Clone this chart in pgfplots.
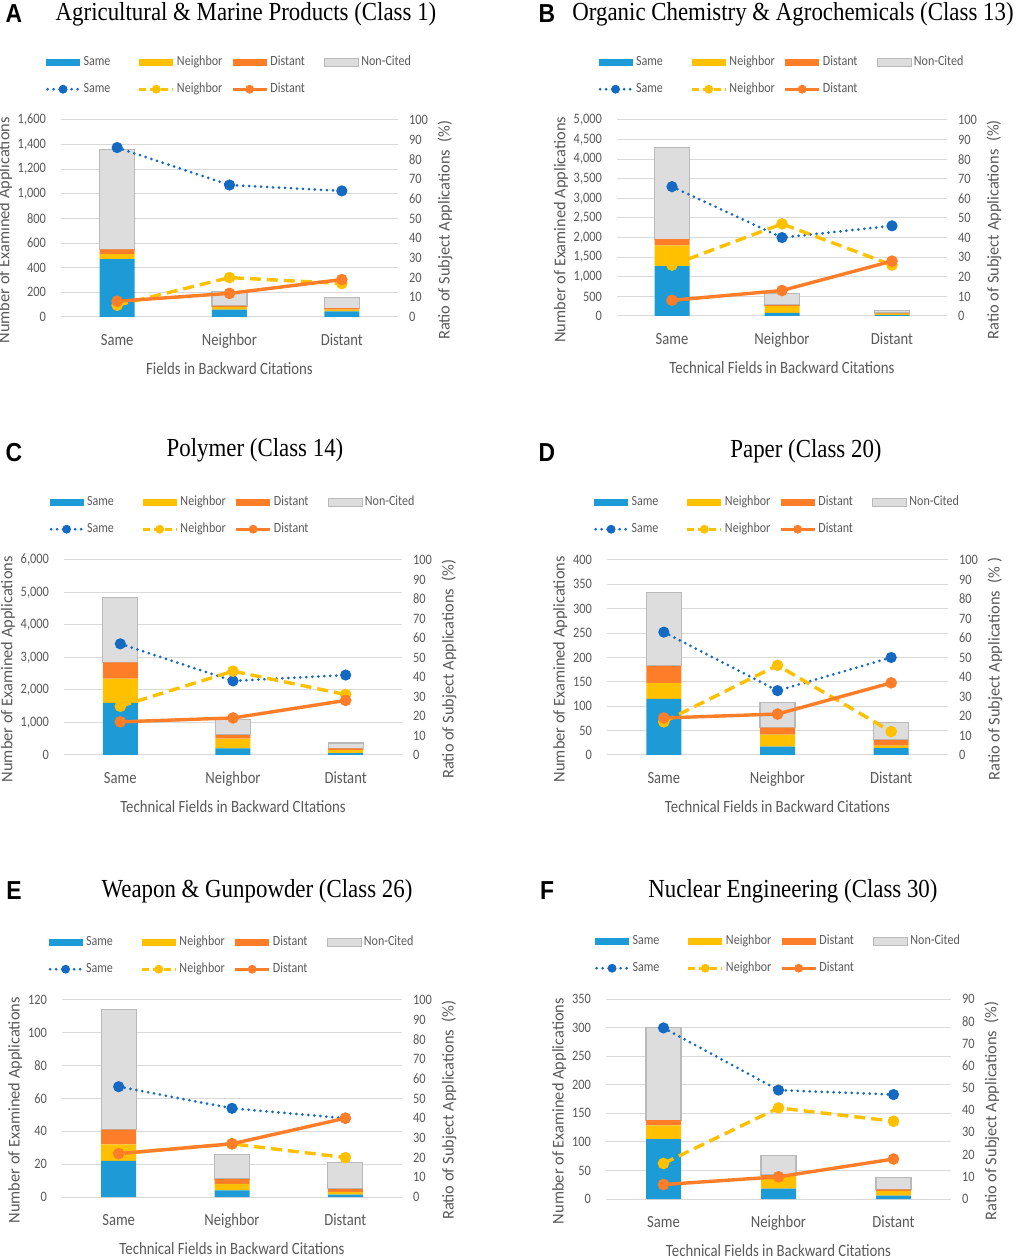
\documentclass[border=0pt]{standalone}
\usepackage{fontspec}
\usepackage{pgfplots}
\pgfplotsset{compat=1.18}
\setmainfont{Carlito}[FakeStretch=0.86]
\newfontfamily\ylabfam{Carlito}
\newfontfamily\titlefont{Liberation Serif}[FakeStretch=0.88]
\newfontfamily\letterfont{Liberation Sans}[FakeStretch=0.88]
\definecolor{barblue}{RGB}{29,155,214}
\definecolor{baryel}{RGB}{255,192,0}
\definecolor{barora}{RGB}{253,125,40}
\definecolor{bargray}{RGB}{221,221,221}
\definecolor{grayedge}{RGB}{185,185,185}
\definecolor{lblue}{RGB}{20,105,195}
\definecolor{lyel}{RGB}{255,192,0}
\definecolor{lora}{RGB}{253,125,40}
\definecolor{gridc}{RGB}{217,217,217}
\definecolor{txt}{RGB}{89,89,89}
\newcommand\tickfont{\fontsize{7.2}{8}\selectfont}
\newcommand\catfont{\fontsize{8.5}{10}\selectfont}
\newcommand\labfont{\fontsize{8.6}{10}\selectfont}
\newcommand\ylabfont{\ylabfam\fontsize{8.2}{9.5}\selectfont}
\newcommand\legfont{\fontsize{7}{8}\selectfont}
\tikzset{
 ttl/.style={font=\titlefont\fontsize{13}{15}\selectfont},
 ltr/.style={font=\letterfont\bfseries\fontsize{13}{15}\selectfont},
 sameline/.style={lblue, line width=1.5pt, line cap=round, dash pattern=on 0pt off 3pt},
 neiline/.style={lyel, line width=1.7pt, dash pattern=on 5.5pt off 3pt},
 disline/.style={lora, line width=1.7pt},
}
\pgfplotsset{
 barax/.style={scale only axis, ybar stacked, bar width=17.5pt,
  xmin=-0.5, xmax=2.5, xtick={0,1,2}, xticklabels={Same,Neighbor,Distant},
  ymin=0, ymajorgrids, major grid style={draw=gridc, line width=0.5pt},
  axis line style={draw=none}, major tick length=0pt,
  /pgf/number format/assume math mode=true,
  /pgf/number format/1000 sep={,}, scaled y ticks=false,
  yticklabel style={font=\tickfont, text=txt, xshift=-4pt},
  xticklabel style={font=\catfont, text=txt, yshift=-5pt},
  ylabel style={font=\ylabfont, text=txt, at={(ticklabel cs:0.44,-4pt)}},
  xlabel style={font=\labfont, text=txt},
  ylabel={Number of Examined Applications},
  legend columns=4,
  legend style={draw=none, fill=none, at={(0.5,1)}, anchor=south, yshift=11pt,
    column sep=0pt, row sep=5pt, inner sep=0pt, nodes={font=\legfont, text=txt, inner sep=1pt}},
 },
 lineax/.style={scale only axis, xmin=-0.5, xmax=2.5, axis x line=none, axis y line*=right,
  ymin=0, ymax=100, ytick distance=10, axis line style={draw=none}, major tick length=0pt,
  /pgf/number format/assume math mode=true, clip=false,
  yticklabel style={font=\tickfont, text=txt, xshift=2pt},
  ylabel style={font=\ylabfont, text=txt, at={(ticklabel cs:0.44,-2pt)}},
  ylabel={Ratio of Subject Applications\ \ (\%)},
 },
 bS/.style={fill=barblue, draw=none, legend image code/.code={\fill[barblue] (0pt,-1.8pt) rectangle (17pt,1.8pt);}},
 bN/.style={fill=baryel, draw=none, legend image code/.code={\fill[baryel] (0pt,-1.8pt) rectangle (17pt,1.8pt);}},
 bD/.style={fill=barora, draw=none, legend image code/.code={\fill[barora] (0pt,-1.8pt) rectangle (17pt,1.8pt);}},
 bC/.style={fill=bargray, draw=grayedge, line width=0.6pt, legend image code/.code={\filldraw[fill=bargray, draw=grayedge, line width=0.5pt] (0pt,-1.8pt) rectangle (17pt,1.8pt);}},
 lS/.style={sameline, mark=*, mark size=2pt, mark options={solid, fill=lblue, draw=lblue}},
 lN/.style={neiline, mark=*, mark size=2pt, mark options={solid, fill=lyel, draw=lyel}},
 lD/.style={disline, mark=*, mark size=2pt, mark options={solid, fill=lora, draw=lora}},
}
\newcommand\lineleg{%
 \addlegendimage{legend image code/.code={\draw[sameline] (0.8pt,0pt) -- (17pt,0pt); \fill[lblue] (8.5pt,0pt) circle (2pt);}}
 \addlegendentry{\makebox[26pt][l]{Same}}
 \addlegendimage{legend image code/.code={\draw[lyel, line width=1.7pt, dash pattern=on 3.5pt off 2pt] (0pt,0pt) -- (17pt,0pt); \fill[lyel] (8.5pt,0pt) circle (2pt);}}
 \addlegendentry{\makebox[26pt][l]{Neighbor}}
 \addlegendimage{legend image code/.code={\draw[disline] (0pt,0pt) -- (17pt,0pt); \fill[lora] (8.5pt,0pt) circle (2pt);}}
 \addlegendentry{\makebox[26pt][l]{Distant}}
}
\begin{document}
\begin{tikzpicture}
\path[use as bounding box] (0,0) rectangle (508.5pt,629.5pt);
% ---------------- A
\node[ltr] at (7pt,622.5pt) {A};
\node[ttl] at (123pt,622.5pt) {Agricultural \& Marine Products (Class 1)};
\begin{axis}[barax, at={(30.5pt,471pt)}, width=168.5pt, height=98.5pt,
  ymax=1600, ytick distance=200, xlabel={Fields in Backward Citations}]
\addplot[bS] coordinates {(0,470) (1,60) (2,45)}; \addlegendentry{\makebox[26pt][l]{Same}}
\addplot[bN] coordinates {(0,40) (1,20) (2,15)}; \addlegendentry{\makebox[26pt][l]{Neighbor}}
\addplot[bD] coordinates {(0,40) (1,10) (2,12)}; \addlegendentry{\makebox[26pt][l]{Distant}}
\addplot[bC] coordinates {(0,810) (1,120) (2,88)}; \addlegendentry{Non-Cited}
\lineleg
\end{axis}
\begin{axis}[lineax, at={(30.5pt,471pt)}, width=168.5pt, height=98.5pt]
\addplot[lS] coordinates {(0,86) (1,67) (2,64)};
\addplot[lN] coordinates {(0,6) (1,20) (2,17)};
\addplot[lD] coordinates {(0,8) (1,12) (2,19)};
\end{axis}
% ---------------- B
\node[ltr] at (273.5pt,622.5pt) {B};
\node[ttl] at (396.5pt,622.5pt) {Organic Chemistry \& Agrochemicals (Class 13)};
\begin{axis}[barax, at={(308.5pt,471.5pt)}, width=165pt, height=98pt,
  ymax=5000, ytick distance=500, xlabel={Technical Fields in Backward Citations}]
\addplot[bS] coordinates {(0,1270) (1,80) (2,20)}; \addlegendentry{\makebox[26pt][l]{Same}}
\addplot[bN] coordinates {(0,530) (1,170) (2,40)}; \addlegendentry{\makebox[26pt][l]{Neighbor}}
\addplot[bD] coordinates {(0,160) (1,30) (2,15)}; \addlegendentry{\makebox[26pt][l]{Distant}}
\addplot[bC] coordinates {(0,2340) (1,300) (2,65)}; \addlegendentry{Non-Cited}
\lineleg
\end{axis}
\begin{axis}[lineax, at={(308.5pt,471.5pt)}, width=165pt, height=98pt]
\addplot[lS] coordinates {(0,66) (1,40) (2,46)};
\addplot[lN] coordinates {(0,26) (1,47) (2,26)};
\addplot[lD] coordinates {(0,8) (1,13) (2,28)};
\end{axis}
% ---------------- C
\node[ltr] at (7pt,403pt) {C};
\node[ttl] at (127.5pt,404.5pt) {Polymer (Class 14)};
\begin{axis}[barax, at={(32pt,252pt)}, width=169pt, height=97.5pt,
  ymax=6000, ytick distance=1000, xlabel={Technical Fields in Backward CItations}]
\addplot[bS] coordinates {(0,1600) (1,200) (2,60)}; \addlegendentry{\makebox[26pt][l]{Same}}
\addplot[bN] coordinates {(0,750) (1,300) (2,90)}; \addlegendentry{\makebox[26pt][l]{Neighbor}}
\addplot[bD] coordinates {(0,500) (1,120) (2,50)}; \addlegendentry{\makebox[26pt][l]{Distant}}
\addplot[bC] coordinates {(0,2000) (1,460) (2,170)}; \addlegendentry{Non-Cited}
\lineleg
\end{axis}
\begin{axis}[lineax, at={(32pt,252pt)}, width=169pt, height=97.5pt]
\addplot[lS] coordinates {(0,57) (1,38) (2,41)};
\addplot[lN] coordinates {(0,25) (1,43) (2,31)};
\addplot[lD] coordinates {(0,17) (1,19) (2,28)};
\end{axis}
% ---------------- D
\node[ltr] at (273.5pt,403pt) {D};
\node[ttl] at (403pt,404pt) {Paper (Class 20)};
\begin{axis}[barax, at={(303.5pt,252pt)}, width=170.5pt, height=97.5pt,
  ymax=400, ytick distance=50, xlabel={Technical Fields in Backward Citations}]
\addplot[bS] coordinates {(0,115) (1,17) (2,14)}; \addlegendentry{\makebox[26pt][l]{Same}}
\addplot[bN] coordinates {(0,33) (1,25) (2,5)}; \addlegendentry{\makebox[26pt][l]{Neighbor}}
\addplot[bD] coordinates {(0,35) (1,14) (2,12)}; \addlegendentry{\makebox[26pt][l]{Distant}}
\addplot[bC] coordinates {(0,150) (1,52) (2,36)}; \addlegendentry{Non-Cited}
\lineleg
\end{axis}
\begin{axis}[lineax, at={(303.5pt,252pt)}, width=170.5pt, height=97.5pt, ylabel={Ratio of Subject Applications\ \ (\% )}]
\addplot[lS] coordinates {(0,63) (1,33) (2,50)};
\addplot[lN] coordinates {(0,17) (1,46) (2,12)};
\addplot[lD] coordinates {(0,19) (1,21) (2,37)};
\end{axis}
% ---------------- E
\node[ltr] at (7pt,184pt) {E};
\node[ttl] at (128.5pt,184pt) {Weapon \& Gunpowder (Class 26)};
\begin{axis}[barax, at={(31pt,31pt)}, width=170pt, height=98.5pt,
  ymax=120, ytick distance=20, xlabel={Technical Fields in Backward Citations}]
\addplot[bS] coordinates {(0,22) (1,4) (2,1.5)}; \addlegendentry{\makebox[26pt][l]{Same}}
\addplot[bN] coordinates {(0,10) (1,4) (2,1.5)}; \addlegendentry{\makebox[26pt][l]{Neighbor}}
\addplot[bD] coordinates {(0,9) (1,3) (2,2)}; \addlegendentry{\makebox[26pt][l]{Distant}}
\addplot[bC] coordinates {(0,73) (1,15) (2,16)}; \addlegendentry{Non-Cited}
\lineleg
\end{axis}
\begin{axis}[lineax, at={(31pt,31pt)}, width=170pt, height=98.5pt]
\addplot[lS] coordinates {(0,56) (1,45) (2,40)};
\addplot[lN] coordinates {(0,22) (1,27) (2,20)};
\addplot[lD] coordinates {(0,22) (1,27) (2,40)};
\end{axis}
% ---------------- F
\node[ltr] at (273.5pt,184pt) {F};
\node[ttl] at (396.5pt,184pt) {Nuclear Engineering (Class 30)};
\begin{axis}[barax, at={(303pt,30pt)}, width=172.5pt, height=100pt,
  ymax=350, ytick distance=50, xlabel={Technical Fields in Backward Citations}]
\addplot[bS] coordinates {(0,105) (1,18) (2,6)}; \addlegendentry{\makebox[26pt][l]{Same}}
\addplot[bN] coordinates {(0,24) (1,22) (2,8)}; \addlegendentry{\makebox[26pt][l]{Neighbor}}
\addplot[bD] coordinates {(0,9) (1,2) (2,3)}; \addlegendentry{\makebox[26pt][l]{Distant}}
\addplot[bC] coordinates {(0,162) (1,34) (2,21)}; \addlegendentry{Non-Cited}
\lineleg
\end{axis}
\begin{axis}[lineax, at={(303pt,30pt)}, width=172.5pt, height=100pt, ymax=90]
\addplot[lS] coordinates {(0,77) (1,49) (2,47)};
\addplot[lN] coordinates {(0,16) (1,41) (2,35)};
\addplot[lD] coordinates {(0,6.5) (1,10) (2,18)};
\end{axis}
\end{tikzpicture}
\end{document}
